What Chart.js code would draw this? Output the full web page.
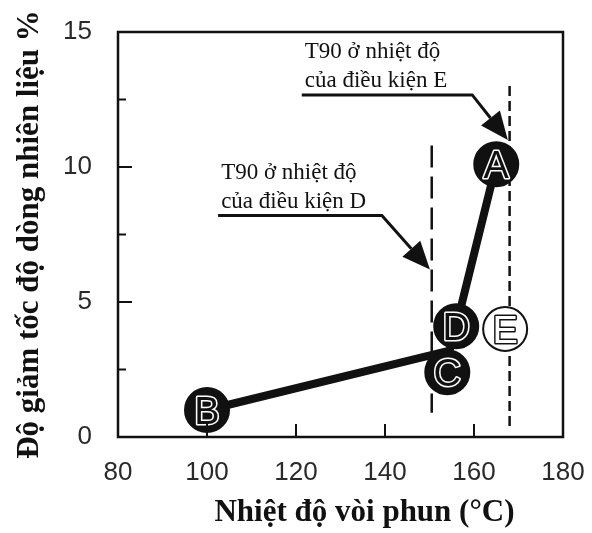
<!DOCTYPE html>
<html>
<head>
<meta charset="utf-8">
<script src="https://cdn.jsdelivr.net/npm/chart.js@4.4.0/dist/chart.umd.min.js"></script>
<style>
  html, body { margin: 0; padding: 0; background: #fff; }
  #wrap { width: 592px; height: 533px; }
</style>
</head>
<body>
<div id="wrap"><canvas id="Chart"></canvas></div>
<script>
// axis ticks
const xTicks = [80, 100, 120, 140, 160, 180];
const yTicks = [0, 5, 10, 15];
const yMinorTicks = [2.5, 7.5, 12.5];

// test conditions A..E (nozzle temp, flow drop %)
const condNames = ['A', 'B', 'C', 'D', 'E'];
const condTemp = [165, 100, 154, 156, 167];
const condDrop = [10.1, 1.0, 2.4, 4.1, 4.0];
const condOpen = [false, false, false, false, true];

// the thick trend line
const curveTemp = [100, 154.5, 156, 165];
const curveDrop = [1.0, 3.2, 4.1, 10.1];

// T90 temperature lines
const t90Names = ['D', 'E'];
const t90Temp = [150.5, 168];
const t90Top = [10.8, 13.0];
const t90Bottom = [0.9, 0.35];

// callouts pointing at the T90 lines
const noteText = [['T90 ở nhiệt độ', 'của điều kiện D'], ['T90 ở nhiệt độ', 'của điều kiện E']];
const noteStart = [102.5, 121.3];
const noteEnd = [139.3, 159.6];
const noteLevel = [8.2, 12.67];
const tipTemp = [150.1, 167.6];
const tipDrop = [6.2, 11.0];

const ink = '#111';

const decor = {
  id: 'decor',
  afterDatasetsDraw(chart) {
    const ctx = chart.ctx;
    const xs = chart.scales.x, ys = chart.scales.y;
    const area = chart.chartArea;

    // letters inside the circles
    const meta = chart.getDatasetMeta(0);
    ctx.save();
    ctx.font = '38px "Liberation Sans", Arial, sans-serif';
    ctx.textAlign = 'center';
    ctx.textBaseline = 'alphabetic';
    ctx.lineJoin = 'round';
    meta.data.forEach((pt, i) => {
      const open = condOpen[i];
      ctx.lineWidth = 3;
      ctx.strokeStyle = open ? ink : '#fff';
      ctx.fillStyle = open ? '#fff' : ink;
      ctx.strokeText(condNames[i], pt.x, pt.y + 14);
      ctx.fillText(condNames[i], pt.x, pt.y + 14);
    });
    ctx.restore();

    // callouts
    ctx.save();
    ctx.fillStyle = ink;
    ctx.strokeStyle = ink;
    ctx.font = '23px "Liberation Serif", "Times New Roman", serif';
    ctx.textAlign = 'left';
    ctx.textBaseline = 'middle';
    noteText.forEach((lines, i) => {
      const x0 = xs.getPixelForValue(noteStart[i]);
      const x1 = xs.getPixelForValue(noteEnd[i]);
      const uy = ys.getPixelForValue(noteLevel[i]);
      const tx = xs.getPixelForValue(tipTemp[i]);
      const ty = ys.getPixelForValue(tipDrop[i]);
      ctx.fillText(lines[1], x0 + 3, uy - 14);
      ctx.fillText(lines[0], x0 + 3, uy - 43);

      const ang = Math.atan2(ty - uy, tx - x1);
      const headLen = 28, headHalf = 12;
      const bx = tx - headLen * Math.cos(ang), by = ty - headLen * Math.sin(ang);
      ctx.lineWidth = 3;
      ctx.beginPath();
      ctx.moveTo(x0, uy);
      ctx.lineTo(x1, uy);
      ctx.lineTo(bx, by);
      ctx.stroke();
      ctx.beginPath();
      ctx.moveTo(tx, ty);
      ctx.lineTo(bx + headHalf * Math.sin(ang), by - headHalf * Math.cos(ang));
      ctx.lineTo(bx - headHalf * Math.sin(ang), by + headHalf * Math.cos(ang));
      ctx.closePath();
      ctx.fill();
    });
    ctx.restore();

    // frame and inward ticks
    ctx.save();
    ctx.strokeStyle = ink;
    ctx.lineWidth = 2.5;
    ctx.strokeRect(area.left, area.top, area.right - area.left, area.bottom - area.top);
    ctx.lineWidth = 2;
    ctx.beginPath();
    xTicks.slice(1, -1).forEach(v => {
      const px = xs.getPixelForValue(v);
      ctx.moveTo(px, area.bottom);
      ctx.lineTo(px, area.bottom - 13);
    });
    yTicks.slice(1, -1).forEach(v => {
      const py = ys.getPixelForValue(v);
      ctx.moveTo(area.left, py);
      ctx.lineTo(area.left + 14, py);
    });
    yMinorTicks.forEach(v => {
      const py = ys.getPixelForValue(v);
      ctx.moveTo(area.left, py);
      ctx.lineTo(area.left + 8, py);
    });
    ctx.stroke();

    // x axis title
    ctx.fillStyle = ink;
    ctx.font = 'bold 31px "Liberation Serif", "Times New Roman", serif';
    ctx.textAlign = 'center';
    ctx.textBaseline = 'middle';
    ctx.fillText('Nhiệt độ vòi phun (°C)', (area.left + area.right) / 2 + 24, area.bottom + 76);
    ctx.restore();
  }
};

const datasets = [
  {
    label: 'Điều kiện',
    data: condTemp.map((t, i) => ({ x: t, y: condDrop[i] })),
    showLine: false,
    pointRadius: 22,
    pointBackgroundColor: condOpen.map(o => o ? '#fff' : ink),
    pointBorderColor: ink,
    pointBorderWidth: 2,
    order: 0
  },
  {
    label: 'Xu hướng',
    data: curveTemp.map((t, i) => ({ x: t, y: curveDrop[i] })),
    showLine: true,
    borderColor: ink,
    borderWidth: 8,
    borderJoinStyle: 'round',
    borderCapStyle: 'round',
    pointRadius: 0,
    order: 1
  }
];

t90Names.forEach((name, i) => {
  datasets.push({
    label: 'T90 ' + name,
    data: [{ x: t90Temp[i], y: t90Top[i] }, { x: t90Temp[i], y: t90Bottom[i] }],
    showLine: true,
    borderColor: ink,
    borderWidth: 2.5,
    borderDash: i === 0 ? [22, 9] : [10, 5],
    pointRadius: 0,
    order: 2
  });
});

const config = {
  type: 'scatter',
  data: { datasets },
  options: {
    responsive: true,
    maintainAspectRatio: false,
    animation: false,
    layout: { padding: { top: 32, right: 29, left: 0, bottom: 0 } },
    plugins: {
      legend: { display: false },
      tooltip: { enabled: false }
    },
    scales: {
      x: {
        type: 'linear',
        min: xTicks[0],
        max: xTicks[xTicks.length - 1],
        afterBuildTicks: scale => { scale.ticks = xTicks.map(v => ({ value: v })); },
        afterFit: scale => {
          scale.height = 96;
          scale.paddingLeft = 0;
          scale.paddingRight = 0;
        },
        grid: { display: false, drawTicks: false },
        border: { display: false },
        ticks: {
          padding: 20,
          color: '#2a2a2a',
          font: { family: '"Liberation Sans", Arial, sans-serif', size: 26 }
        }
      },
      y: {
        type: 'linear',
        min: yTicks[0],
        max: yTicks[yTicks.length - 1],
        afterBuildTicks: scale => { scale.ticks = yTicks.map(v => ({ value: v })); },
        afterFit: scale => {
          scale.width = 118;
          scale.paddingTop = 0;
          scale.paddingBottom = 0;
        },
        grid: { display: false, drawTicks: false },
        border: { display: false },
        ticks: {
          padding: 26,
          color: '#2a2a2a',
          font: { family: '"Liberation Sans", Arial, sans-serif', size: 26 }
        },
        title: {
          display: true,
          text: 'Độ giảm tốc độ dòng nhiên liệu %',
          color: ink,
          padding: { top: 11, bottom: 0 },
          font: { family: '"Liberation Serif", "Times New Roman", serif', size: 31, weight: 'bold' }
        }
      }
    }
  },
  plugins: [decor]
};

const spChart = new Chart(document.getElementById('Chart'), config);
</script>
</body>
</html>
